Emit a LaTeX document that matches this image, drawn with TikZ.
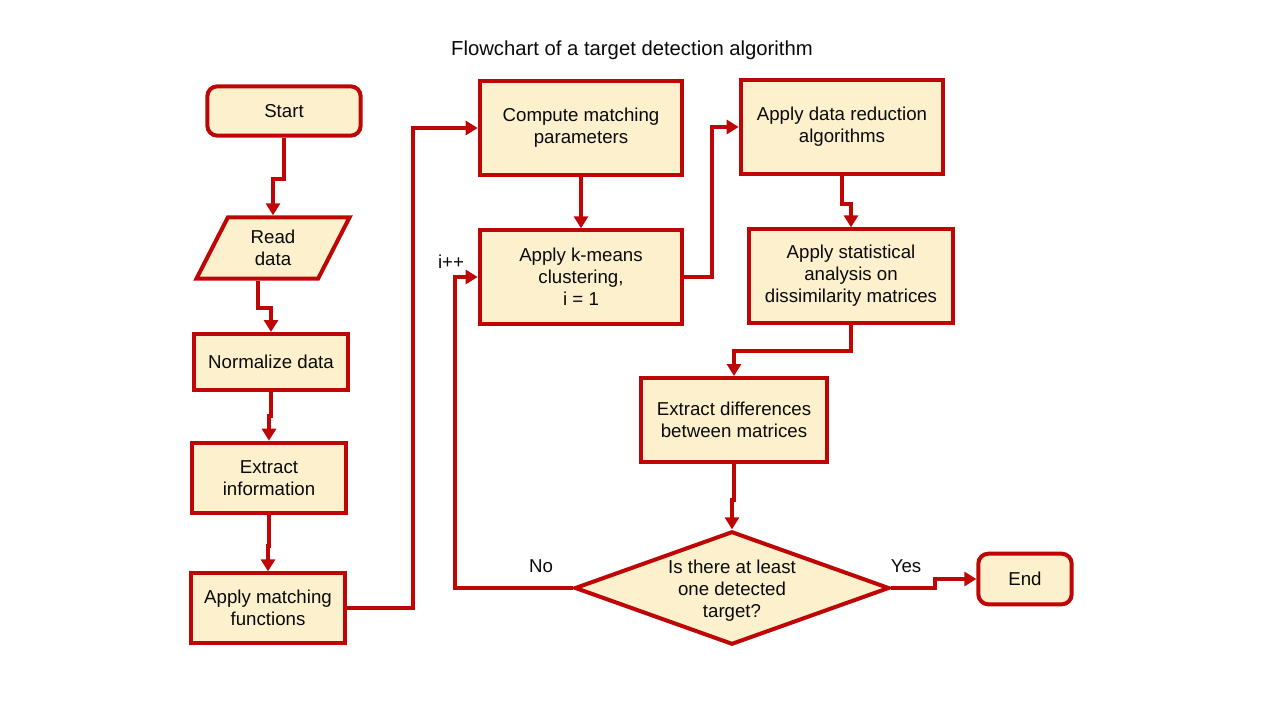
\documentclass[tikz,border=0pt]{standalone}
\usepackage{fontspec}
\setmainfont{Liberation Sans}
\usetikzlibrary{shapes.geometric,arrows.meta}
\definecolor{bordred}{RGB}{190,6,6}
\definecolor{boxfill}{RGB}{253,240,204}
\definecolor{txt}{RGB}{10,10,10}
\tikzset{
  base/.style={draw=bordred, fill=boxfill, line width=3pt, align=center, text=txt,
    font=\fontsize{14}{16.5}\selectfont, inner sep=2pt},
  procbox/.style={base, rectangle},
  termbox/.style={base, rectangle, rounded corners=7.5pt},
  iobox/.style={base, trapezium, trapezium left angle=67, trapezium right angle=113,
    trapezium stretches=true},
  decbox/.style={base, diamond, aspect=2.74, inner sep=0pt},
  conn/.style={draw=bordred, line width=3pt, -{Triangle[length=9pt,width=10.5pt]}},
  lbl/.style={font=\fontsize{14}{16.5}\selectfont, text=txt}
}
\begin{document}
\begin{tikzpicture}[x=0.75pt,y=-0.75pt]
\useasboundingbox (0,0) rectangle (1280,720);
\node[lbl, font=\fontsize{15.2}{18}\selectfont] (title) at (632,50) {Flowchart of a target detection algorithm};

\node[termbox, minimum width=115pt, minimum height=37pt] (start) at (284,111) {Start};
\node[iobox, minimum width=115pt, minimum height=46pt] (read) at (273,248) {Read\\data};
\node[procbox, minimum width=115pt, minimum height=42pt] (norm) at (271,362) {Normalize data};
\node[procbox, minimum width=115pt, minimum height=53pt] (extr) at (269,478) {Extract\\information};
\node[procbox, minimum width=115pt, minimum height=52pt] (amf) at (268,608) {Apply matching\\functions};

\node[procbox, minimum width=152pt, minimum height=70pt] (comp) at (581,128) {Compute matching\\parameters};
\node[procbox, minimum width=152pt, minimum height=70pt] (kmeans) at (581,277) {Apply k-means\\clustering,\\i = 1};

\node[procbox, minimum width=152pt, minimum height=70pt] (dred) at (842,127) {Apply data reduction\\algorithms};
\node[procbox, minimum width=153pt, minimum height=70pt] (stat) at (851,276) {Apply statistical\\analysis on\\dissimilarity matrices};
\node[procbox, minimum width=139pt, minimum height=63pt] (ediff) at (734,420) {Extract differences\\between matrices};

\node[decbox, minimum width=236pt, minimum height=85pt] (dec) at (732,588) {};
\node[lbl, align=center] (dectext) at (732,591) {Is there at least\\one detected\\target?};
\node[termbox, minimum width=70pt, minimum height=38pt] (end) at (1025,579) {End};

\draw[conn] (start.south) -- ++(0,41) -| (read.north);
\draw[conn] ([xshift=-11.25pt]read.south) -- ++(0,27) -| (norm.north);
\draw[conn] (norm.south) -- ++(0,24) -| (extr.north);
\draw[conn] (extr.south) -- ++(0,31) -| (amf.north);
\draw[conn] (amf.east) -- ++(66,0) |- (comp.west);
\draw[conn] (comp.south) -- (kmeans.north);
\draw[conn] (kmeans.east) -- ++(28,0) |- (dred.west);
\draw[conn] (dred.south) -- ++(0,28) -| (stat.north);
\draw[conn] (stat.south) -- ++(0,26) -| (ediff.north);
\draw[conn] (ediff.south) -- ++(0,36) -| (dec.north);
\draw[conn] (dec.east) -- ++(44,0) |- (end.west);
\draw[conn] (dec.west) -- ++(-118,0) |- (kmeans.west);

\node[lbl] (no) at (541,566) {No};
\node[lbl] (yes) at (906,566) {Yes};
\node[lbl] (ipp) at (451,262) {i++};
\end{tikzpicture}
\end{document}
